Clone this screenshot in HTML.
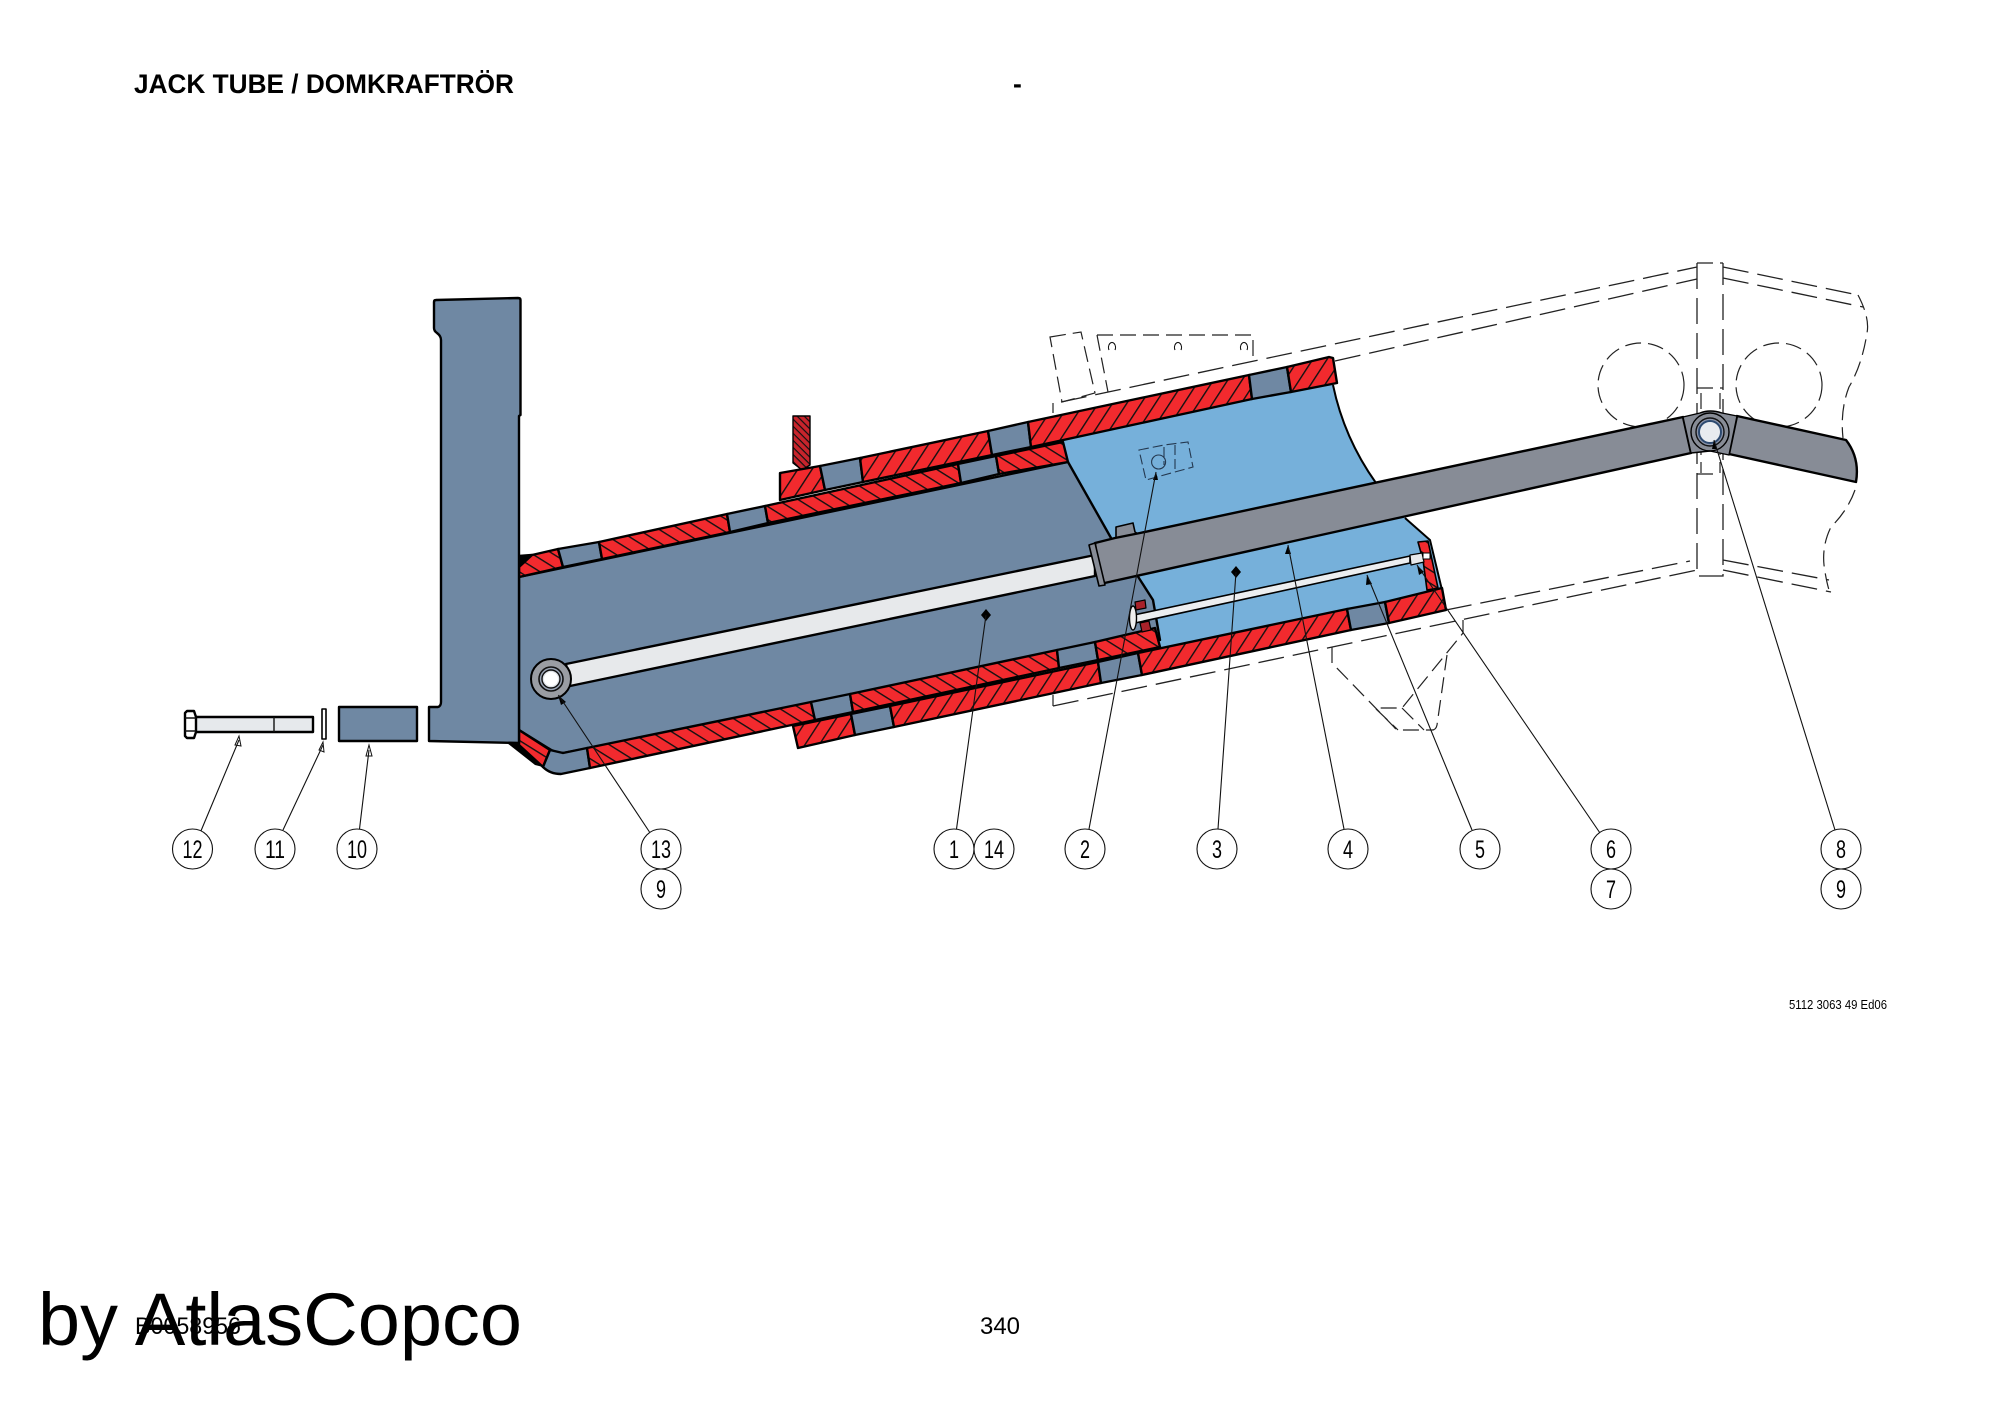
<!DOCTYPE html>
<html>
<head>
<meta charset="utf-8">
<title>Jack tube</title>
<style>
html,body{margin:0;padding:0;background:#fff;width:2000px;height:1414px;overflow:hidden}
svg{display:block}
text{font-family:"Liberation Sans",sans-serif;fill:#000}
.k{stroke:#000;stroke-width:2.4;stroke-linejoin:round}
.s{fill:#6f88a3}
.b{fill:#76b0da}
.g{fill:#878c96}
.d{fill:none;stroke:#222;stroke-width:1.3;stroke-dasharray:26 9}
.d2{fill:none;stroke:#222;stroke-width:1.2;stroke-dasharray:16 7}
.d3{fill:none;stroke:#24384f;stroke-width:1.1;stroke-dasharray:10 4}
.l{stroke:#111;stroke-width:1.1;fill:none}
.c{fill:#fff;stroke:#111;stroke-width:1.1}
.n{font-size:25px}
</style>
</head>
<body>
<svg width="2000" height="1414" viewBox="0 0 2000 1414" xmlns="http://www.w3.org/2000/svg">
<defs>
<pattern id="hA" width="12" height="12" patternUnits="userSpaceOnUse" patternTransform="rotate(-57)">
<rect width="12" height="12" fill="#f22a2e"/><rect width="12" height="1.4" fill="#111"/>
</pattern>
<pattern id="hB" width="11" height="11" patternUnits="userSpaceOnUse" patternTransform="rotate(32)">
<rect width="11" height="11" fill="#f22a2e"/><rect width="11" height="1.4" fill="#111"/>
</pattern>
<pattern id="hC" width="5" height="5" patternUnits="userSpaceOnUse" patternTransform="rotate(45)">
<rect width="5" height="5" fill="#c8242c"/><rect width="5" height="1.2" fill="#111"/>
</pattern>
</defs>

<!-- dashed surroundings -->
<path class="d" d="M1061 402L1697 267"/>
<path class="d" d="M1335 361L1697 279"/>
<path class="d2" d="M1050 337L1081 332L1095 393L1062 402Z"/>
<path class="d2" d="M1097 335H1253V362M1097 335L1108 392"/>
<path class="l" d="M1053 403V413"/>
<path class="l" d="M1109 350a3.500 5 0 1 1 6 0M1175 350a3.500 5 0 1 1 6 0M1241 350a3.500 5 0 1 1 6 0"/>
<path class="d2" d="M1697 263H1723"/>
<path class="d" d="M1697 263V576H1723V263"/>
<path class="d2" d="M1697 388H1723M1701 393V473M1720 393V473M1697 474H1720"/>
<path class="d" d="M1723 267L1858 295M1723 278L1863 307"/>
<path class="d2" d="M1858 295Q1870 318 1867 333Q1862 365 1849 387Q1840 410 1843 438M1855 490Q1848 510 1831 527Q1822 545 1824 565Q1826 580 1829 590"/>
<path class="d" d="M1446 610L1690 561M1053 706L1697 570M1723 560L1829 580M1723 570L1831 592"/>
<path class="d2" d="M1053 695V706"/>
<path class="d2" d="M1332 647V663L1394 727Q1396 730 1400 730H1432Q1436 730 1437 725L1447 655M1463 620V633L1402 708H1375L1398 730M1402 708L1424 730"/>
<ellipse class="d2" cx="1641" cy="385" rx="43" ry="42"/>
<ellipse class="d2" cx="1779" cy="385" rx="43" ry="42"/>

<!-- bolt, washer, spacer -->
<path class="k" fill="#e6e9ec" d="M195 717H313V732H195Z"/>
<path class="k" fill="#fff" d="M187 711H194L196 717V732L194 738H187L185 736V713Z"/>
<path class="l" d="M185 718H196M185 731H196M274 717V732" style="stroke-width:1.4"/>
<path class="k" fill="#fff" d="M322 709H326V739H322Z" style="stroke-width:1.6"/>
<rect class="k s" x="339" y="707" width="78" height="34"/>

<!-- light blue barrel -->
<path class="b" d="M1050 432L1330 374L1333 385Q1344 438 1376 483L1405 518L1430 540L1442 590L1160 650L1100 640Z"/>
<path class="l" style="stroke-width:2;stroke:#000" d="M1333 385Q1344 438 1376 483M1405 518L1430 540L1442 590"/>

<!-- dashed detail on barrel -->
<path class="d3" d="M1139 450L1164 445L1188 442L1193 467L1146 480ZM1175 445V472M1164 447V465"/>
<circle cx="1158.600" cy="462" r="7" fill="none" stroke="#24384f" stroke-width="1.100"/>

<!-- slate body -->
<path class="k s" d="M519 577L1068 462L1115 545L1137 575L1153 600L1160 640L563 753Q555 753 548 748L519 730Z"/>
<path class="k" fill="#000" d="M519 556L532 555L519 572Z"/>
<path d="M507 743H519L543 767L535 765Z" fill="#000"/>

<!-- upper inner wall -->
<path class="k" fill="url(#hB)" d="M519 567L532 555L558 549L563 567L519 577Z"/>
<path class="k s" d="M558 549L599 542L602 559L563 567Z"/>
<path class="k" fill="url(#hB)" d="M599 542L727 514L730 532L602 559Z"/>
<path class="k s" d="M727 514L765 506L768 523L730 532Z"/>
<path class="k" fill="url(#hB)" d="M765 506L958 464L961 483L768 523Z"/>
<path class="k s" d="M958 464L996 456L999 474L961 483Z"/>
<path class="k" fill="url(#hB)" d="M996 456L1063 442L1068 462L999 474Z"/>

<!-- upper outer collar -->
<path class="k" fill="url(#hC)" d="M793 416H810V465L802 470L793 463Z" style="stroke-width:1.4"/>
<path class="k" fill="url(#hA)" d="M780 473L820 466L825 490L780 500Z"/>
<path class="k s" d="M820 466L860 458L863 482L825 490Z"/>
<path class="k" fill="url(#hA)" d="M860 458L988 431L992 455L863 482Z"/>
<path class="k s" d="M988 431L1028 422L1031 447L992 455Z"/>
<path class="k" fill="url(#hA)" d="M1028 422L1249 375L1252 399L1031 447Z"/>
<path class="k s" d="M1249 375L1287 367L1291 392L1252 399Z"/>
<path class="k" fill="url(#hA)" d="M1287 367L1329 357L1333 358L1337 383L1291 392Z"/>

<!-- lower slate/red foot -->
<path class="k" fill="url(#hB)" d="M519 730L550 750L543 767L519 745Z"/>
<path class="k s" d="M550 750L563 753L587 748L590 768L561 774Q550 774 543 767Z"/>
<path class="k" fill="url(#hB)" d="M587 748L811 702L815 720L590 768Z"/>
<path class="k s" d="M811 702L850 694L853 712L815 720Z"/>
<path class="k" fill="url(#hB)" d="M850 694L1057 650L1059 668L853 712Z"/>
<path class="k s" d="M1057 650L1095 642L1098 660L1059 668Z"/>
<path class="k" fill="url(#hB)" d="M1095 642L1155 628L1160 647L1098 660Z"/>

<!-- lower outer sleeve -->
<path class="k" fill="url(#hA)" d="M793 726L851 714L855 735L798 748Z"/>
<path class="k s" d="M851 714L890 706L894 727L855 735Z"/>
<path class="k" fill="url(#hA)" d="M890 706L1098 662L1101 683L894 727Z"/>
<path class="k s" d="M1098 662L1138 653L1142 675L1101 683Z"/>
<path class="k" fill="url(#hA)" d="M1138 653L1347 609L1351 630L1142 675Z"/>
<path class="k s" d="M1347 609L1385 602L1389 623L1351 630Z"/>
<path class="k" fill="url(#hA)" d="M1385 602L1442 588L1446 610L1389 623Z"/>

<!-- end plate -->
<path class="k" fill="url(#hB)" style="stroke-width:1.6" d="M1418 542L1428 541L1438 588L1427 590L1423 560Z"/>

<!-- mounting plate -->
<path class="k s" d="M436 300L518 298Q520.500 298 520.500 300V415L519 416V743L429 741V707L438 707Q441 706 441 702V340Q441 336 437 333Q434 331 434 328V302Q434 300 436 300Z"/>

<!-- main rod -->
<path class="k" fill="#e7e9eb" d="M566 664L1095 555V576L570 686Z"/>
<circle cx="551" cy="679" r="20" fill="#9a9da3" stroke="#000" stroke-width="2"/>
<circle cx="551" cy="679" r="12" fill="#9aa4b4" stroke="#111" stroke-width="1.6"/>
<circle cx="551" cy="679" r="9" fill="#dfe3e8" stroke="#111" stroke-width="1.4"/>
<circle cx="551" cy="679" r="7" fill="#fff"/>

<!-- small rod -->
<path class="k" style="fill:#a8222a;stroke-width:1.2" d="M1135 602L1145 600L1146 608L1136 610Z"/>
<path class="k" style="fill:#a8222a;stroke-width:1.2" d="M1140 623L1149 621L1151 630L1142 632Z"/>
<path class="k" fill="#eceef0" style="stroke-width:1.6" d="M1134 615L1410 556V563L1135 623Z"/>
<ellipse cx="1133" cy="618" rx="3.500" ry="12" fill="#eee" stroke="#000" stroke-width="1.4"/>
<path class="k" fill="#e8eaec" style="stroke-width:1.2" d="M1410 555L1422 553L1424 562L1411 565Z"/>
<rect x="1423" y="553" width="7" height="6" fill="#fff" stroke="#000" stroke-width="1"/>

<!-- cylinder -->
<path class="k g" d="M1116 537V527L1133 523L1135 532L1140 535Q1135 543 1125 543Q1118 543 1116 537Z" style="stroke-width:1.6"/>
<path class="k g" d="M1095 543L1115 538L1140 533L1683 417L1691 453L1100 584Z"/>
<path class="k g" d="M1089 545L1095 543L1105 585L1099 586Z" style="stroke-width:1.6"/>
<path class="k g" d="M1737 416L1846 440Q1860 458 1856 482L1729 454Z"/>
<path class="k g" d="M1683 417L1700 413Q1710 409 1722 413L1737 416L1729 455L1710 451L1691 453Z" style="stroke-width:1.4"/>
<circle cx="1710" cy="432" r="19" fill="none" stroke="#000" stroke-width="1.4"/>
<circle cx="1710" cy="432" r="14" fill="#8a93a8" stroke="#111" stroke-width="1.4"/>
<circle cx="1710" cy="432" r="11" fill="#e8ebef" stroke="#2d4a70" stroke-width="2"/>

<!-- diamonds and arrows -->
<path d="M986 609L991 615L986 621L981 615Z"/>
<path d="M1236 566L1241 572L1236 578L1231 572Z"/>
<path d="M1156 472L1158 480L1153 480Z"/>
<path d="M1288 545L1291 554L1285 554Z"/>
<path d="M1367 575L1372 584L1366 585Z"/>
<path d="M1417 565L1424 572L1419 575Z"/>
<path d="M1714 440L1717 449L1712 449Z"/>
<path d="M558 695L566 702L561 705Z"/>
<path d="M239 736L241 746L235 745Z" fill="#fff" stroke="#111" stroke-width="1"/>
<path d="M323 742L324 752L319 750Z" fill="#fff" stroke="#111" stroke-width="1"/>
<path d="M369 745L372 756L366 756Z" fill="#fff" stroke="#111" stroke-width="1"/>

<!-- leaders -->
<path class="l" d="M200.500 832L239 740M283 830L323 745M359.500 829L369 750M649.500 832L558.500 695M956.500 829L986 615M1089 829L1156 472M1218 829L1236 572M1344 829L1288 545M1472 830L1367 575M1600 833L1417 565M1835 830L1714 440"/>

<!-- balloons -->
<g>
<circle class="c" cx="192.500" cy="849" r="20"/><text class="n" x="192.500" y="858" text-anchor="middle" textLength="20" lengthAdjust="spacingAndGlyphs">12</text>
<circle class="c" cx="275" cy="849" r="20"/><text class="n" x="275" y="858" text-anchor="middle" textLength="20" lengthAdjust="spacingAndGlyphs">11</text>
<circle class="c" cx="357" cy="849" r="20"/><text class="n" x="357" y="858" text-anchor="middle" textLength="20" lengthAdjust="spacingAndGlyphs">10</text>
<circle class="c" cx="661" cy="849" r="20"/><text class="n" x="661" y="858" text-anchor="middle" textLength="20" lengthAdjust="spacingAndGlyphs">13</text>
<circle class="c" cx="661" cy="889" r="20"/><text class="n" x="661" y="898" text-anchor="middle" textLength="10" lengthAdjust="spacingAndGlyphs">9</text>
<circle class="c" cx="954" cy="849" r="20"/><text class="n" x="954" y="858" text-anchor="middle" textLength="10" lengthAdjust="spacingAndGlyphs">1</text>
<circle class="c" cx="994" cy="849" r="20"/><text class="n" x="994" y="858" text-anchor="middle" textLength="20" lengthAdjust="spacingAndGlyphs">14</text>
<circle class="c" cx="1085" cy="849" r="20"/><text class="n" x="1085" y="858" text-anchor="middle" textLength="10" lengthAdjust="spacingAndGlyphs">2</text>
<circle class="c" cx="1217" cy="849" r="20"/><text class="n" x="1217" y="858" text-anchor="middle" textLength="10" lengthAdjust="spacingAndGlyphs">3</text>
<circle class="c" cx="1348" cy="849" r="20"/><text class="n" x="1348" y="858" text-anchor="middle" textLength="10" lengthAdjust="spacingAndGlyphs">4</text>
<circle class="c" cx="1480" cy="849" r="20"/><text class="n" x="1480" y="858" text-anchor="middle" textLength="10" lengthAdjust="spacingAndGlyphs">5</text>
<circle class="c" cx="1611" cy="849" r="20"/><text class="n" x="1611" y="858" text-anchor="middle" textLength="10" lengthAdjust="spacingAndGlyphs">6</text>
<circle class="c" cx="1611" cy="889" r="20"/><text class="n" x="1611" y="898" text-anchor="middle" textLength="10" lengthAdjust="spacingAndGlyphs">7</text>
<circle class="c" cx="1841" cy="849" r="20"/><text class="n" x="1841" y="858" text-anchor="middle" textLength="10" lengthAdjust="spacingAndGlyphs">8</text>
<circle class="c" cx="1841" cy="889" r="20"/><text class="n" x="1841" y="898" text-anchor="middle" textLength="10" lengthAdjust="spacingAndGlyphs">9</text>
</g>

<!-- text -->
<text x="134" y="93" font-size="26.500" font-weight="bold" textLength="380" lengthAdjust="spacingAndGlyphs">JACK TUBE / DOMKRAFTRÖR</text>
<text x="1013" y="93" font-size="26.500" font-weight="bold">-</text>
<text x="1789" y="1009" font-size="13" textLength="98" lengthAdjust="spacingAndGlyphs">5112 3063 49 Ed06</text>
<text x="135" y="1334" font-size="24" textLength="106" lengthAdjust="spacingAndGlyphs">B0058956</text>
<text x="980" y="1334" font-size="24" textLength="40" lengthAdjust="spacingAndGlyphs">340</text>
<text x="38" y="1345" font-size="74" textLength="484" lengthAdjust="spacingAndGlyphs">by AtlasCopco</text>
</svg>
</body>
</html>
